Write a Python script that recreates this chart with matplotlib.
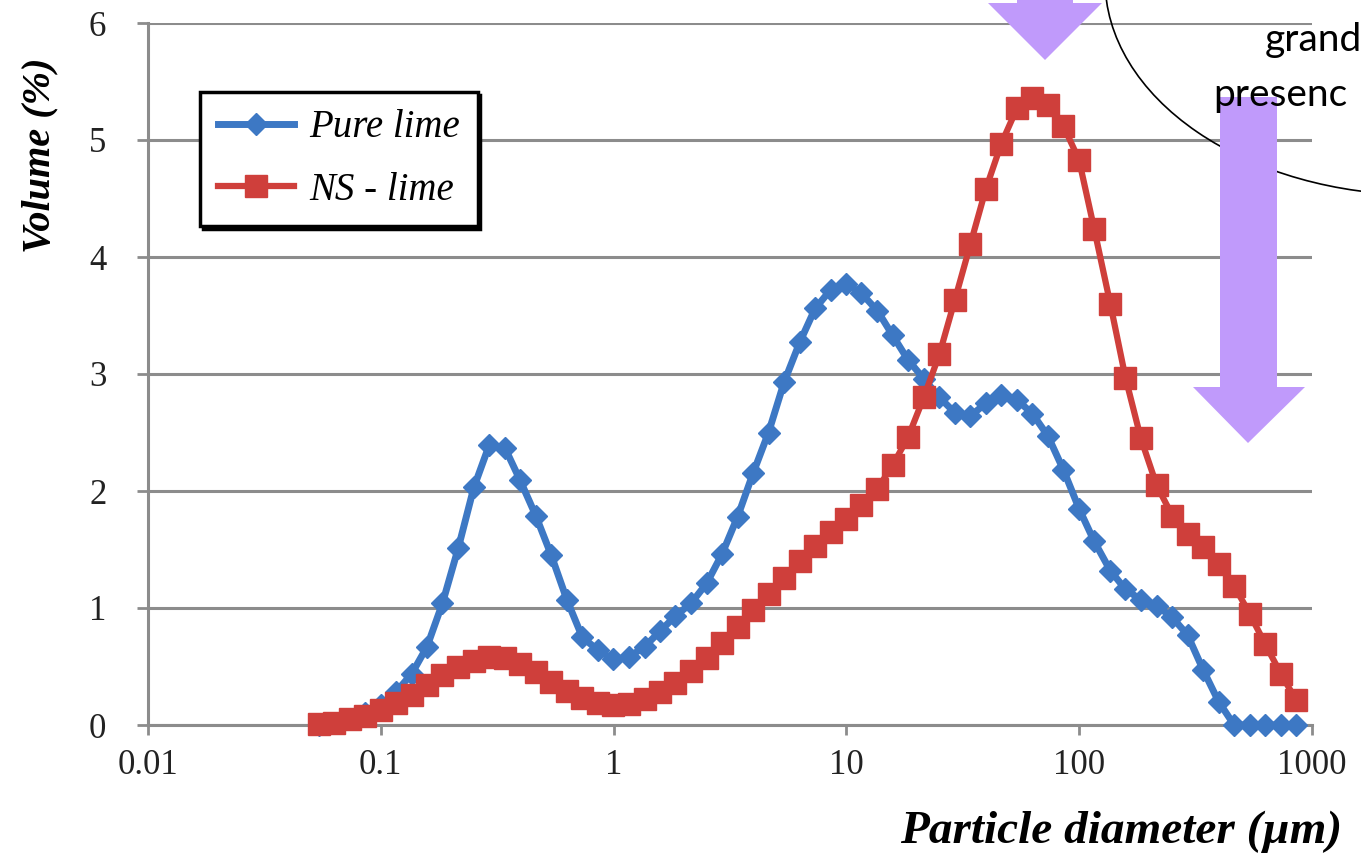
import matplotlib
matplotlib.use("Agg")
import matplotlib.pyplot as plt
from matplotlib.patches import Ellipse, Polygon
from matplotlib.ticker import NullLocator

# particle size classes (um)
size_um = [0.054, 0.063, 0.0734, 0.0856, 0.0998, 0.116, 0.136, 0.158, 0.184, 0.215,
           0.251, 0.292, 0.341, 0.397, 0.463, 0.54, 0.63, 0.734, 0.856, 0.998,
           1.16, 1.36, 1.58, 1.84, 2.15, 2.51, 2.92, 3.41, 3.97, 4.63,
           5.4, 6.3, 7.34, 8.56, 9.98, 11.6, 13.6, 15.8, 18.4, 21.5,
           25.1, 29.2, 34.1, 39.7, 46.3, 54.0, 63.0, 73.4, 85.6, 99.8,
           116, 136, 158, 184, 215, 251, 292, 341, 397, 463,
           540, 630, 734, 856]

# volume (%) per class
pure_lime = [0.0, 0.02, 0.05, 0.1, 0.17, 0.28, 0.44, 0.67, 1.04, 1.51,
             2.03, 2.39, 2.37, 2.09, 1.79, 1.45, 1.07, 0.75, 0.64, 0.56,
             0.58, 0.67, 0.8, 0.93, 1.04, 1.21, 1.46, 1.78, 2.15, 2.5,
             2.93, 3.27, 3.56, 3.72, 3.77, 3.69, 3.54, 3.33, 3.12, 2.96,
             2.8, 2.67, 2.64, 2.75, 2.82, 2.78, 2.66, 2.47, 2.18, 1.85,
             1.57, 1.32, 1.16, 1.07, 1.02, 0.92, 0.77, 0.47, 0.2, 0.0,
             0.0, 0.0, 0.0, 0.0]

ns_lime = [0.01, 0.02, 0.05, 0.08, 0.13, 0.19, 0.26, 0.34, 0.43, 0.5,
           0.55, 0.58, 0.57, 0.52, 0.45, 0.37, 0.29, 0.23, 0.19, 0.17,
           0.18, 0.22, 0.28, 0.36, 0.46, 0.57, 0.7, 0.84, 0.98, 1.12,
           1.26, 1.4, 1.53, 1.65, 1.76, 1.88, 2.02, 2.22, 2.46, 2.8,
           3.17, 3.63, 4.11, 4.58, 4.97, 5.27, 5.36, 5.3, 5.12, 4.83,
           4.24, 3.6, 2.97, 2.45, 2.05, 1.79, 1.63, 1.52, 1.38, 1.19,
           0.95, 0.69, 0.44, 0.21]

x_ticks = [0.01, 0.1, 1, 10, 100, 1000]
x_tick_labels = ["0.01", "0.1", "1", "10", "100", "1000"]

blue = "#3d78c4"
red = "#cf3f3b"
grey = "#8c8c8c"
purple = "#c09afb"

plt.rcParams["font.family"] = ["Liberation Serif", "DejaVu Serif"]

W, H = 1361, 861
fig = plt.figure(figsize=(W / 100, H / 100), dpi=100)
ax = fig.add_axes([148 / W, 1 - 725 / H, (1312 - 148) / W, (725 - 23) / H])

ax.plot(size_um, pure_lime, color=blue, lw=5, marker="D", ms=11,
        label="Pure lime", zorder=3, clip_on=False)
ax.plot(size_um, ns_lime, color=red, lw=4.5, marker="s", ms=16.5,
        label="NS - lime", zorder=4, clip_on=False)

ax.set_xscale("log")
ax.set_xlim(0.01, 1000)
ax.set_ylim(0, 6)
ax.set_xticks(x_ticks)
ax.set_xticklabels(x_tick_labels)
ax.xaxis.set_minor_locator(NullLocator())
ax.set_yticks(range(7))

ax.grid(axis="y", color=grey, lw=2.2)
ax.set_axisbelow(True)
for s in ["top", "right"]:
    ax.spines[s].set_visible(False)
for s in ["left", "bottom"]:
    ax.spines[s].set_color(grey)
    ax.spines[s].set_linewidth(2.2)

ax.tick_params(axis="y", length=8, width=2, color=grey, pad=22,
               labelsize=25, labelcolor="#222222")
ax.tick_params(axis="x", length=7, width=2, color=grey, pad=10,
               labelsize=25, labelcolor="#222222")

ax.set_ylabel("Volume (%)", fontsize=29, fontweight="bold", style="italic")
ax.yaxis.set_label_coords(-0.077, 0.812)
ax.set_xlabel("Particle diameter (\u00b5m)", fontsize=34, fontweight="bold",
              style="italic")
ax.xaxis.label.set_ha("right")
ax.xaxis.set_label_coords(1.026, -0.122)

leg = ax.legend(loc="upper left", bbox_to_anchor=(0.045, 0.902), borderaxespad=0,
                prop={"family": "Liberation Serif", "style": "italic", "size": 28},
                fancybox=False, shadow={"color": "black", "alpha": 1},
                handlelength=1.95, handletextpad=0.4, borderpad=0.45,
                labelspacing=0.65)
leg.get_frame().set_edgecolor("black")
leg.get_frame().set_linewidth(2.5)

# annotation layer in pixel coordinates
ov = fig.add_axes([0, 0, 1, 1], zorder=10)
ov.set_xlim(0, W)
ov.set_ylim(H, 0)
ov.set_axis_off()
ov.patch.set_visible(False)

ov.add_patch(Ellipse((1420, -20), 630, 430, fill=False, ec="black", lw=1.2))
ov.add_patch(Polygon([(1017, -5), (1073, -5), (1073, 3), (1102, 3), (1045, 60),
                      (988, 3), (1017, 3)], closed=True, fc=purple, ec="none"))
ov.add_patch(Polygon([(1220, 97), (1277, 97), (1277, 387), (1305, 387), (1248, 443),
                      (1193, 387), (1220, 387)], closed=True, fc=purple, ec="none"))
ov.text(1265, 40, "grand", fontsize=28, family="Lato", va="center", ha="left",
        zorder=5)
ov.text(1213, 95, "presenc", fontsize=28, family="Lato", va="center", ha="left",
        zorder=5)

fig.savefig("out.png", dpi=100)
